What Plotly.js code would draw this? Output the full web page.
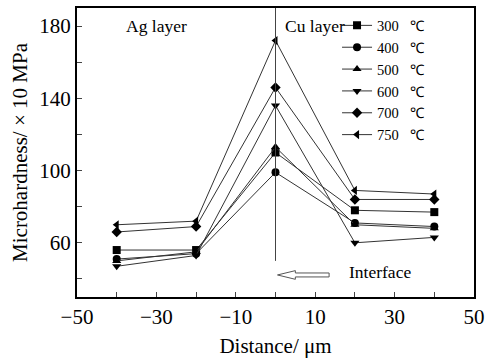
<!DOCTYPE html>
<html><head><meta charset="utf-8">
<script src="https://cdn.plot.ly/plotly-3.0.1.min.js"></script>
<style>html,body{margin:0;padding:0;background:#fff}#c{width:488px;height:358px}</style>
</head><body><div id="c"></div>
<script>
const distance = [-40, -20, 0, 20, 40];
const seriesNames = ["300   ℃", "400   ℃", "500   ℃", "600   ℃", "700   ℃", "750   ℃"];
const s300 = [56, 56, 110, 78, 77];
const s400 = [51, 54, 99, 71, 69];
const s500 = [50, 55, 113, 70, 68];
const s600 = [47, 53, 136, 60, 63];
const s700 = [66, 69, 146, 84, 84];
const s750 = [70, 72, 172, 89, 87];
const seriesValues = [s300, s400, s500, s600, s700, s750];
const symbols = ["square", "circle", "triangle-up", "triangle-down", "diamond", "triangle-left"];

const FONT = "Liberation Serif, Times New Roman, serif";
const traces = seriesValues.map((v, i) => ({
  x: distance, y: v, name: seriesNames[i], type: "scatter", mode: "lines+markers",
  line: {color: "#333", width: 1},
  marker: {symbol: symbols[i], size: 8, color: "#000"}
}));

const layout = {
  width: 488, height: 358,
  margin: {l: 77, r: 14, t: 8, b: 61},
  paper_bgcolor: "#fff", plot_bgcolor: "#fff",
  font: {family: FONT, color: "#000", size: 18},
  showlegend: true,
  legend: {x: 0.655, y: 0.995, xanchor: "left", yanchor: "top", bgcolor: "rgba(0,0,0,0)",
    font: {family: FONT, size: 14.5}, tracegroupgap: 0},
  xaxis: {range: [-50, 50], tick0: -50, dtick: 20, ticks: "inside", ticklen: 5, tickwidth: 1,
    minor: {dtick: 10, ticks: "inside", ticklen: 5, tickwidth: 1},
    showline: true, linewidth: 2, linecolor: "#000", mirror: true, showgrid: false, zeroline: false,
    tickfont: {family: FONT, size: 21},
    title: {text: "Distance/ μm", font: {family: FONT, size: 21}, standoff: 10}},
  yaxis: {range: [30, 190], tick0: 20, dtick: 40, ticks: "inside", ticklen: 5, tickwidth: 1,
    minor: {dtick: 20, ticks: "inside", ticklen: 5, tickwidth: 1},
    showline: true, linewidth: 2, linecolor: "#000", mirror: true, showgrid: false, zeroline: false,
    tickfont: {family: FONT, size: 21},
    title: {text: "Microhardness/ × 10 MPa", font: {family: FONT, size: 21}, standoff: 6}},
  shapes: [
    {type: "line", xref: "x", yref: "y", x0: 0, x1: 0, y0: 50, y1: 190, line: {color: "#444", width: 1}},
    {type: "path", xref: "x", yref: "y",
     path: "M 0.5 42.2 L 5 44.6 L 5 43.3 L 13.5 43.3 L 13.5 41.1 L 5 41.1 L 5 39.8 Z",
     line: {color: "#555", width: 1}, fillcolor: "rgba(0,0,0,0)"}
  ],
  annotations: [
    {x: -30, y: 180, xref: "x", yref: "y", text: "Ag layer", showarrow: false, font: {size: 17.5}},
    {x: 2, y: 180, xref: "x", yref: "y", text: "Cu layer", showarrow: false, xanchor: "left", font: {size: 17.5}},
    {x: 18, y: 44, xref: "x", yref: "y", text: "Interface", showarrow: false, xanchor: "left", font: {size: 17.5}}
  ]
};
Plotly.newPlot("c", traces, layout, {staticPlot: true, displayModeBar: false});
</script></body></html>
